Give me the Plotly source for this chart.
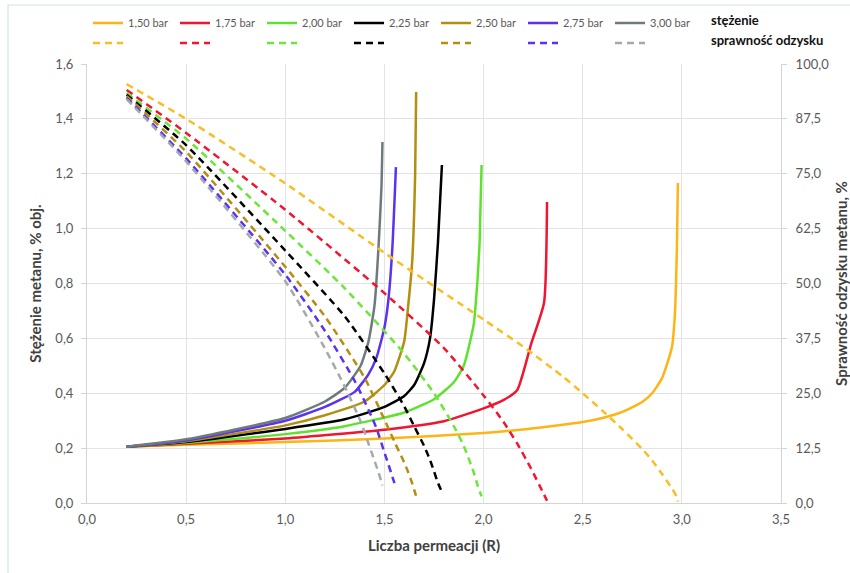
import plotly.graph_objects as go

# ---------------- data ----------------
pressures = ["1,50 bar", "1,75 bar", "2,00 bar", "2,25 bar", "2,50 bar", "2,75 bar", "3,00 bar"]

r_150 = [0.2, 0.5, 1.0, 1.5, 2.0, 2.2, 2.4, 2.5, 2.6, 2.7, 2.8, 2.85, 2.9, 2.95, 2.965, 2.975, 2.98]
conc_150 = [0.205, 0.212, 0.222, 0.235, 0.255, 0.268, 0.285, 0.295, 0.31, 0.332, 0.368, 0.40, 0.455, 0.568, 0.69, 0.93, 1.166]
rec_150 = [95.4, 87.5, 72.8, 57.0, 41.8, 35.6, 28.8, 25.0, 21.0, 16.8, 12.3, 9.7, 6.6, 3.3, 2.2, 1.1, 0.3]

r_175 = [0.2, 0.5, 1.0, 1.5, 1.8, 2.0, 2.1, 2.17, 2.24, 2.305, 2.32]
conc_175 = [0.205, 0.216, 0.235, 0.267, 0.298, 0.345, 0.375, 0.412, 0.58, 0.73, 1.097]
rec_175 = [94.1, 84.3, 66.8, 47.8, 35.3, 24.5, 18.5, 13.5, 7.8, 1.9, 0.5]

r_200 = [0.2, 0.5, 1.0, 1.3, 1.6, 1.75, 1.85, 1.9, 1.95, 1.97, 1.98, 1.99]
conc_200 = [0.205, 0.219, 0.251, 0.28, 0.33, 0.378, 0.44, 0.50, 0.65, 0.82, 0.95, 1.232]
rec_200 = [93.4, 83.0, 62.0, 48.9, 34.0, 25.0, 17.5, 13.0, 7.0, 4.0, 2.7, 1.5]

r_225 = [0.2, 0.5, 1.0, 1.3, 1.5, 1.6, 1.65, 1.7, 1.73, 1.75, 1.77, 1.79]
conc_225 = [0.205, 0.222, 0.27, 0.305, 0.35, 0.39, 0.43, 0.51, 0.6, 0.74, 0.95, 1.232]
rec_225 = [93.0, 81.5, 57.5, 42.5, 29.5, 22.0, 17.5, 13.0, 9.8, 7.2, 4.6, 2.5]

r_250 = [0.2, 0.5, 1.0, 1.2, 1.4, 1.5, 1.55, 1.6, 1.62, 1.64, 1.655, 1.66]
conc_250 = [0.205, 0.225, 0.283, 0.32, 0.37, 0.43, 0.48, 0.59, 0.72, 0.88, 1.2, 1.498]
rec_250 = [92.7, 80.0, 53.8, 42.5, 28.5, 19.0, 14.0, 9.2, 7.0, 4.5, 2.3, 1.5]

r_275 = [0.2, 0.5, 1.0, 1.2, 1.35, 1.42, 1.46, 1.5, 1.52, 1.54, 1.558]
conc_275 = [0.205, 0.228, 0.30, 0.35, 0.405, 0.47, 0.53, 0.64, 0.74, 0.93, 1.224]
rec_275 = [92.3, 78.5, 52.0, 39.2, 27.8, 21.2, 17.0, 11.5, 8.8, 6.0, 3.5]

r_300 = [0.2, 0.5, 1.0, 1.2, 1.3, 1.38, 1.42, 1.45, 1.47, 1.485, 1.49]
conc_300 = [0.205, 0.232, 0.31, 0.37, 0.42, 0.50, 0.59, 0.72, 0.93, 1.15, 1.316]
rec_300 = [92.0, 77.8, 50.5, 35.2, 26.5, 18.6, 13.5, 9.6, 7.0, 4.8, 4.0]

x_ticks = [0.0, 0.5, 1.0, 1.5, 2.0, 2.5, 3.0, 3.5]
left_ticks = [0.0, 0.2, 0.4, 0.6, 0.8, 1.0, 1.2, 1.4, 1.6]
right_ticks = [0.0, 12.5, 25.0, 37.5, 50.0, 62.5, 75.0, 87.5, 100.0]

# ---------------- styling ----------------
solid_colors = ["#FDB515", "#F01530", "#5FE22E", "#000000", "#B38F10", "#5A32F0", "#6F7A7D"]
dash_colors = ["#F8BE25", "#F01530", "#6BE63A", "#000000", "#B38F10", "#5A32F0", "#A3AAAD"]

R = [r_150, r_175, r_200, r_225, r_250, r_275, r_300]
C = [conc_150, conc_175, conc_200, conc_225, conc_250, conc_275, conc_300]
E = [rec_150, rec_175, rec_200, rec_225, rec_250, rec_275, rec_300]

FONT = "Lato"
fig = go.Figure()

for i, name in enumerate(pressures):
    fig.add_trace(go.Scatter(
        x=R[i], y=C[i], mode="lines", name=name,
        line=dict(color=solid_colors[i], width=2.5, shape="spline", smoothing=0.5),
        legend="legend", yaxis="y"))
for i, name in enumerate(pressures):
    fig.add_trace(go.Scatter(
        x=R[i], y=E[i], mode="lines", name=" ",
        line=dict(color=dash_colors[i], width=2.5, dash="7px,5px",
                  shape="spline", smoothing=0.6),
        legend="legend2", yaxis="y2"))

GRID = "#e3e3e3"
AX = "#d4d4d4"
TICKF = dict(family=FONT, size=13, color="#595959")
TITLEF = dict(family=FONT, size=15, color="#404040", weight="bold")

PL, PR, PT, PB = 87, 781, 64, 503
W, H = 850, 573

def px2paper_x(p):
    return (p - PL) / (PR - PL)

def px2paper_y(p):
    return (PB - p) / (PB - PT)

fig.update_layout(
    width=W, height=H,
    margin=dict(l=PL, r=W - PR, t=PT, b=H - PB, autoexpand=False),
    paper_bgcolor="white", plot_bgcolor="white",
    separators=", ",
    font=dict(family=FONT, color="#595959"),
    xaxis=dict(
        range=[0, 3.5], tickvals=x_ticks, tickformat=".1f",
        showgrid=True, gridcolor=GRID, gridwidth=1,
        showline=True, linecolor=AX, linewidth=1,
        zeroline=False, ticks="", tickfont=TICKF, ticklabelstandoff=4,
        title=dict(text="Liczba permeacji (R)", font=TITLEF, standoff=14),
        automargin=False),
    yaxis=dict(
        range=[0, 1.6], tickvals=left_ticks, tickformat=".1f",
        showgrid=True, gridcolor=GRID, gridwidth=1,
        showline=True, linecolor=AX, linewidth=1,
        zeroline=False, ticks="outside", ticklen=5, tickcolor=AX,
        tickfont=TICKF, ticklabelstandoff=5,
        title=dict(text="Stężenie metanu, % obj.", font=TITLEF, standoff=10),
        automargin=False),
    yaxis2=dict(
        range=[0, 100], tickvals=right_ticks, tickformat=".1f",
        overlaying="y", side="right", showgrid=False,
        showline=True, linecolor=AX, linewidth=1,
        zeroline=False, ticks="outside", ticklen=5, tickcolor=AX,
        tickfont=TICKF, ticklabelstandoff=6,
        title=dict(text="Sprawność odzysku metanu, %", font=TITLEF, standoff=10),
        automargin=False),
    legend=dict(
        orientation="h", x=px2paper_x(88), xanchor="left",
        y=px2paper_y(23), yanchor="middle",
        entrywidth=42, entrywidthmode="pixels",
        font=dict(family=FONT, size=11, color="#595959"),
        bgcolor="rgba(0,0,0,0)", itemwidth=30, tracegroupgap=0),
    legend2=dict(
        orientation="h", x=px2paper_x(88), xanchor="left",
        y=px2paper_y(43), yanchor="middle",
        entrywidth=42, entrywidthmode="pixels",
        font=dict(family=FONT, size=11, color="#595959"),
        bgcolor="rgba(0,0,0,0)", itemwidth=30, tracegroupgap=0),
    showlegend=True,
    shapes=[dict(type="rect", xref="paper", yref="paper",
                 x0=px2paper_x(8), x1=px2paper_x(870),
                 y0=px2paper_y(590), y1=px2paper_y(5),
                 line=dict(color="#d3e2e6", width=1.2), layer="below")],
    annotations=[
        dict(text="<b>stężenie</b>", xref="paper", yref="paper",
             x=px2paper_x(709), y=px2paper_y(20), xanchor="left", yanchor="middle",
             showarrow=False, font=dict(family=FONT, size=13, color="#111111")),
        dict(text="<b>sprawność odzysku</b>", xref="paper", yref="paper",
             x=px2paper_x(709), y=px2paper_y(40), xanchor="left", yanchor="middle",
             showarrow=False, font=dict(family=FONT, size=13, color="#111111")),
    ],
)

fig.write_html("out.html")
